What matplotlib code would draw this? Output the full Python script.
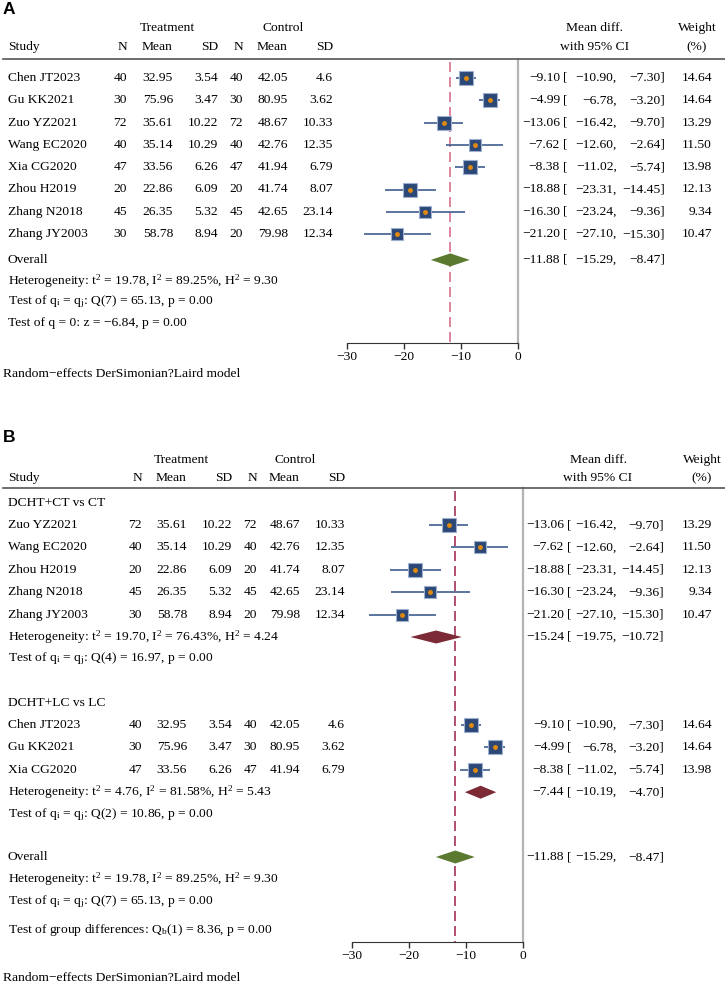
import numpy as np
import matplotlib.pyplot as plt

plt.rcParams['font.family'] = ['Liberation Serif', 'DejaVu Serif']
plt.rcParams['mathtext.fontset'] = 'custom'
plt.rcParams['mathtext.rm'] = 'Liberation Serif'
plt.rcParams['mathtext.it'] = 'Liberation Serif'

# ---- data ----
studies = ["Chen JT2023", "Gu KK2021", "Zuo YZ2021", "Wang EC2020",
           "Xia CG2020", "Zhou H2019", "Zhang N2018", "Zhang JY2003"]
n_t = [40, 30, 72, 40, 47, 20, 45, 30]
mean_t = [32.95, 75.96, 35.61, 35.14, 33.56, 22.86, 26.35, 58.78]
sd_t = [3.54, 3.47, 10.22, 10.29, 6.26, 6.09, 5.32, 8.94]
n_c = [40, 30, 72, 40, 47, 20, 45, 20]
mean_c = [42.05, 80.95, 48.67, 42.76, 41.94, 41.74, 42.65, 79.98]
sd_c = [4.6, 3.62, 10.33, 12.35, 6.79, 8.07, 23.14, 12.34]
md = [-9.10, -4.99, -13.06, -7.62, -8.38, -18.88, -16.30, -21.20]
ci_lo = [-10.90, -6.78, -16.42, -12.60, -11.02, -23.31, -23.24, -27.10]
ci_hi = [-7.30, -3.20, -9.70, -2.64, -5.74, -14.45, -9.36, -15.30]
weight = [14.64, 14.64, 13.29, 11.50, 13.98, 12.13, 9.34, 10.47]

overall = [-11.88, -15.29, -8.47]

group_names = ["DCHT+CT vs CT", "DCHT+LC vs LC"]
group_members = [[2, 3, 5, 6, 7], [0, 1, 4]]
group_est = [[-15.24, -19.75, -10.72], [-7.44, -10.19, -4.70]]
group_het = [r"Heterogeneity: t$^\mathregular{2}$ = 19.70, I$^\mathregular{2}$ = 76.43%, H$^\mathregular{2}$ = 4.24",
             r"Heterogeneity: t$^\mathregular{2}$ = 4.76, I$^\mathregular{2}$ = 81.58%, H$^\mathregular{2}$ = 5.43"]
group_test = [r"Test of q$_\mathregular{i}$ = q$_\mathregular{j}$: Q(4) = 16.97, p = 0.00",
              r"Test of q$_\mathregular{i}$ = q$_\mathregular{j}$: Q(2) = 10.86, p = 0.00"]

het_all = r"Heterogeneity: t$^\mathregular{2}$ = 19.78, I$^\mathregular{2}$ = 89.25%, H$^\mathregular{2}$ = 9.30"
test_all = r"Test of q$_\mathregular{i}$ = q$_\mathregular{j}$: Q(7) = 65.13, p = 0.00"
test_zero = "Test of q = 0: z = \u22126.84, p = 0.00"
test_group = r"Test of group differences: Q$_\mathregular{b}$(1) = 8.36, p = 0.00"
footnote = "Random\u2212effects DerSimonian?Laird model"
xticks = [-30, -20, -10, 0]

# ---- styles ----
W, H = 725, 984
FS = 9.7
SQ = '#2c4877'
SQ_EDGE = '#9db0cf'
CI_COL = '#4d6a98'
DOT = '#e0890f'
GREEN = '#5b7a2f'
RED = '#7c2a36'
GRAY0 = '#b4b4b4'

fig = plt.figure(figsize=(W / 100, H / 100), dpi=100)


def fx(x):
    return x / W


def fy(y):
    return 1 - y / H


def put(x, y, s, ha='left', **kw):
    fig.text(fx(x), fy(y), s, ha=ha, va='center', fontsize=FS, **kw)


def num(v, d=2):
    return f"{v:.{d}f}".replace('-', '\u2212')


def hline(y, x0=3, x1=725):
    fig.add_artist(plt.Line2D([fx(x0), fx(x1)], [fy(y), fy(y)],
                              color='#555555', lw=1.2))


def header(cols, tr_c, ct_c, y1, y2, md_c, wt_c):
    put(tr_c, y1, "Treatment", ha='center')
    put(ct_c, y1, "Control", ha='center')
    put(8, y2, "Study")
    for x, s in zip(cols, ["N", "Mean", "SD", "N", "Mean", "SD"]):
        put(x, y2, s, ha='right')
    put(md_c, y1, "Mean diff.", ha='center')
    put(md_c, y2, "with 95% CI", ha='center')
    put(wt_c, y1, "Weight", ha='center')
    put(wt_c, y2, "(%)", ha='center')


def ci_text(y, est, lo, hi, xs, w=None, wx=712):
    put(xs[0], y, num(est), ha='right')
    put(xs[0] + 3, y, "[", ha='left')
    put(xs[1], y, num(lo) + ",", ha='right')
    put(xs[2], y, num(hi) + "]", ha='right')
    if w is not None:
        put(wx, y, num(w), ha='right')


def study_row(ax, i, y, cols, xs):
    put(8, y, studies[i])
    vals = [str(n_t[i]), f"{mean_t[i]:g}", f"{sd_t[i]:g}",
            str(n_c[i]), f"{mean_c[i]:g}", f"{sd_c[i]:g}"]
    for x, s in zip(cols, vals):
        put(x, y, s, ha='right')
    ax.plot([ci_lo[i], ci_hi[i]], [y, y], color=CI_COL, lw=1.3,
            solid_capstyle='butt', zorder=2, clip_on=False)
    ax.plot(md[i], y, marker='s', ms=2.75 * np.sqrt(weight[i]), mfc=SQ,
            mec=SQ_EDGE, mew=0.8, zorder=3, clip_on=False)
    ax.plot(md[i], y, marker='o', ms=2.5, color=DOT, mec=DOT, zorder=4,
            clip_on=False)
    ci_text(y, md[i], ci_lo[i], ci_hi[i], xs, weight[i])


def diamond(ax, y, est, color, h=6.5):
    ax.fill([est[1], est[0], est[2], est[0]], [y, y - h, y, y + h],
            color=color, lw=0, zorder=3, clip_on=False)


def forest_axes(x0, x1, ytop, ybot, dash_col):
    ax = fig.add_axes([fx(x0), fy(ybot), (x1 - x0) / W, (ybot - ytop) / H])
    ax.set_xlim(-30, 0)
    ax.set_ylim(ybot, ytop)
    ax.patch.set_alpha(0)
    for s in ['top', 'left', 'right']:
        ax.spines[s].set_visible(False)
    ax.spines['bottom'].set_color('#333333')
    ax.set_yticks([])
    ax.set_xticks(xticks)
    ax.set_xticklabels([num(t, 0) for t in xticks])
    ax.tick_params(axis='x', direction='out', length=4, width=1,
                   labelsize=FS, pad=2, color='#333333')
    ax.plot([0, 0], [ytop, ybot], color=GRAY0, lw=1.6, zorder=1,
            clip_on=False)
    ax.plot([overall[0]] * 2, [ytop + 3, ybot], color=dash_col, lw=1.2,
            dashes=(6, 3), zorder=1, clip_on=False)
    return ax


# ================= Panel A =================
fig.text(fx(3), fy(9), "A", ha='left', va='center', fontsize=12.5,
         fontweight='bold', family='Liberation Sans')
colsA = [127, 173, 218, 243, 288, 333]
xsA = [560, 617, 665]
header(colsA, 167, 283, 28, 47, 595, 697)
hline(59)
axA = forest_axes(347, 518, 59, 343, '#d8708c')
y = 78
for i in range(len(studies)):
    study_row(axA, i, y, colsA, xsA)
    y += 22.3
y += 3.5
put(8, y, "Overall")
diamond(axA, y, overall, GREEN)
ci_text(y, *overall, xsA)
y += 21
put(8, y, het_all)
y += 21
put(8, y, test_all)
y += 21
put(8, y, test_zero)
put(3, 374, footnote)

# ================= Panel B =================
fig.text(fx(3), fy(437), "B", ha='left', va='center', fontsize=12.5,
         fontweight='bold', family='Liberation Sans')
colsB = [142, 187, 232, 257, 300, 345]
xsB = [564, 617, 664]
header(colsB, 181, 295, 460, 478, 598, 702)
hline(488)
axB = forest_axes(352, 523, 488, 942, '#a3305a')
y = 503
for g in range(len(group_names)):
    put(8, y, group_names[g])
    y += 22
    for i in group_members[g]:
        study_row(axB, i, y, colsB, xsB)
        y += 22.4
    put(8, y, group_het[g])
    diamond(axB, y, group_est[g], RED)
    ci_text(y, *group_est[g], xsB)
    y += 22
    put(8, y, group_test[g])
    y += 44
y = 857
put(8, y, "Overall")
diamond(axB, y, overall, GREEN)
ci_text(y, *overall, xsB)
y += 22
put(8, y, het_all)
y += 23
put(8, y, test_all)
y += 28
put(8, y, test_group)
put(3, 978, footnote)

fig.savefig("out.png", dpi=100)
